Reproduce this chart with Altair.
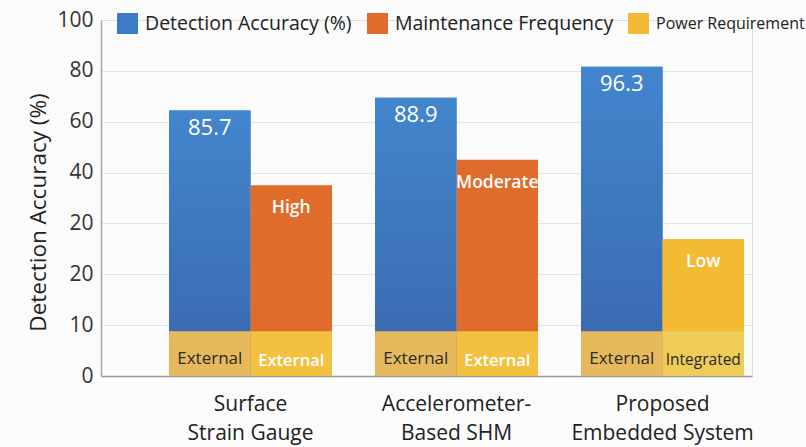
import altair as alt
import pandas as pd

# Systems compared (axis labels use "|" as a line break)
systems = ["Surface|Strain Gauge", "Accelerometer-|Based SHM", "Proposed|Embedded System"]

# Detection accuracy (%) and bar heights on the tick-index axis
accuracy = [85.7, 88.9, 96.3]
accuracy_level = [5.22, 5.47, 6.08]

# Second bar of each group: maintenance frequency / power requirement
second_series = ["Maintenance Frequency", "Maintenance Frequency", "Power Requirement"]
second_labels = ["High", "Moderate", "Low"]
second_level = [3.75, 4.25, 2.69]

# Power source strip at the foot of every bar
base_first = ["External", "External", "External"]
base_second = ["External", "External", "Integrated"]
base_level = 0.88

# Y axis tick labels, one per tick index
tick_labels = ["0", "10", "20", "20", "40", "60", "80", "100"]

series_names = ["Detection Accuracy (%)", "Maintenance Frequency", "Power Requirement"]
series_colors = ["#3C7CC5", "#E06C2C", "#F2BB33"]

rows = []
for i, s in enumerate(systems):
    rows.append(dict(system=s, slot=0, series=series_names[0], level=accuracy_level[i],
                     top=f"{accuracy[i]}", base=base_level, base_label=base_first[i],
                     base_fill="#E6BA5C", base_style="dark"))
    light = second_series[i] == "Maintenance Frequency"
    rows.append(dict(system=s, slot=1, series=second_series[i], level=second_level[i],
                     top=second_labels[i], base=base_level, base_label=base_second[i],
                     base_fill="#F3C13F" if light else "#EFCB57",
                     base_style="light" if light else "small"))
df = pd.DataFrame(rows)

FONT = "Open Sans"
label_expr = "[" + ",".join(f"'{t}'" for t in tick_labels) + "][datum.value]"

x_enc = alt.X(
    "system:N",
    sort=systems,
    scale=alt.Scale(domain=systems, paddingInner=0.209, paddingOuter=0.1845, align=0.895),
    axis=alt.Axis(title=None, labelExpr="split(datum.label, '|')", labelAngle=0,
                  labelFontSize=21, labelColor="#222", labelPadding=17, labelLineHeight=29,
                  labelLimit=0, ticks=False, domainColor="#9a9a9a", domainWidth=1.5,
                  labelFont=FONT),
)
xo_enc = alt.XOffset("slot:N", scale=alt.Scale(domain=[0, 1], paddingInner=0, paddingOuter=0))
y_enc = alt.Y(
    "level:Q",
    scale=alt.Scale(domain=[0, 7], nice=False),
    axis=alt.Axis(title="Detection Accuracy (%)", values=list(range(8)), labelExpr=label_expr,
                  labelFontSize=21, labelColor="#333", labelPadding=8, ticks=False,
                  domainColor="#a8a8a8", domainWidth=1.5,
                  gridColor="#e3e3e3", gridWidth=1.2,
                  gridOpacity=alt.condition("datum.value == 0 || datum.value == 7",
                                            alt.value(0), alt.value(1)),
                  titleFontSize=22.5, titleFontWeight="normal", titleColor="#222",
                  titleBaseline="middle", titleAlign="center",
                  titleX=-63, titleY=192, titleFont=FONT, labelFont=FONT),
)

base = alt.Chart(df).encode(x=x_enc, xOffset=xo_enc)

legend_common = dict(orient="none", direction="horizontal", title=None, symbolType="square",
                     symbolStrokeWidth=0, symbolSize=441, labelFont=FONT, labelColor="#222",
                     labelOffset=7, columnPadding=15, labelLimit=0)

bars = base.mark_bar().encode(
    y=y_enc,
    color=alt.Color("series:N", scale=alt.Scale(domain=series_names, range=series_colors),
                    legend=alt.Legend(values=series_names[:2], legendX=16, legendY=-7,
                                      labelFontSize=19.5, **legend_common)),
)

blue_shade = base.transform_filter("datum.slot == 0").mark_bar(
    color=alt.Gradient(gradient="linear",
                       stops=[alt.GradientStop(color="#4286CD", offset=0),
                              alt.GradientStop(color="#3A67AE", offset=1)],
                       x1=1, x2=1, y1=0, y2=1)
).encode(y="level:Q")

power = base.transform_filter("datum.series == 'Power Requirement'").mark_bar().encode(
    y="level:Q",
    color=alt.Color("series:N", scale=alt.Scale(domain=series_names[2:], range=series_colors[2:]),
                    legend=alt.Legend(legendX=527, legendY=-7, labelFontSize=16, **legend_common)),
)

strip = base.mark_bar().encode(
    y="base:Q",
    color=alt.Color("base_fill:N", scale=None, legend=None),
)

num_text = base.transform_filter("datum.slot == 0").mark_text(
    color="white", fontSize=22, font=FONT, baseline="middle", dy=17
).encode(y="level:Q", text="top:N")

word_text = base.transform_filter("datum.slot == 1").mark_text(
    color="white", fontSize=17.5, fontWeight=600, font=FONT, baseline="middle", dy=23
).encode(y="level:Q", text="top:N")

strip_dark = base.transform_filter("datum.base_style == 'dark'").mark_text(
    color="#2a2a2a", fontSize=17, font=FONT, baseline="middle", dy=28
).encode(y="base:Q", text="base_label:N")

strip_light = base.transform_filter("datum.base_style == 'light'").mark_text(
    color="white", fontSize=16.5, fontWeight=600, font=FONT, baseline="middle", dy=30
).encode(y="base:Q", text="base_label:N")

strip_small = base.transform_filter("datum.base_style == 'small'").mark_text(
    color="#2a2a2a", fontSize=15.5, font=FONT, baseline="middle", dy=29
).encode(y="base:Q", text="base_label:N")

chart = alt.layer(
    bars, blue_shade, power, strip, num_text, word_text, strip_dark, strip_light, strip_small
).resolve_scale(color="independent").properties(
    width=651, height=356,
    autosize=alt.AutoSizeParams(type="none"),
    padding={"left": 101, "top": 20, "right": 54, "bottom": 71},
    background="#fbfbfb",
).configure_view(stroke=None).configure(font=FONT)

chart.save("out.html", embed_options={"renderer": "svg", "actions": False})
